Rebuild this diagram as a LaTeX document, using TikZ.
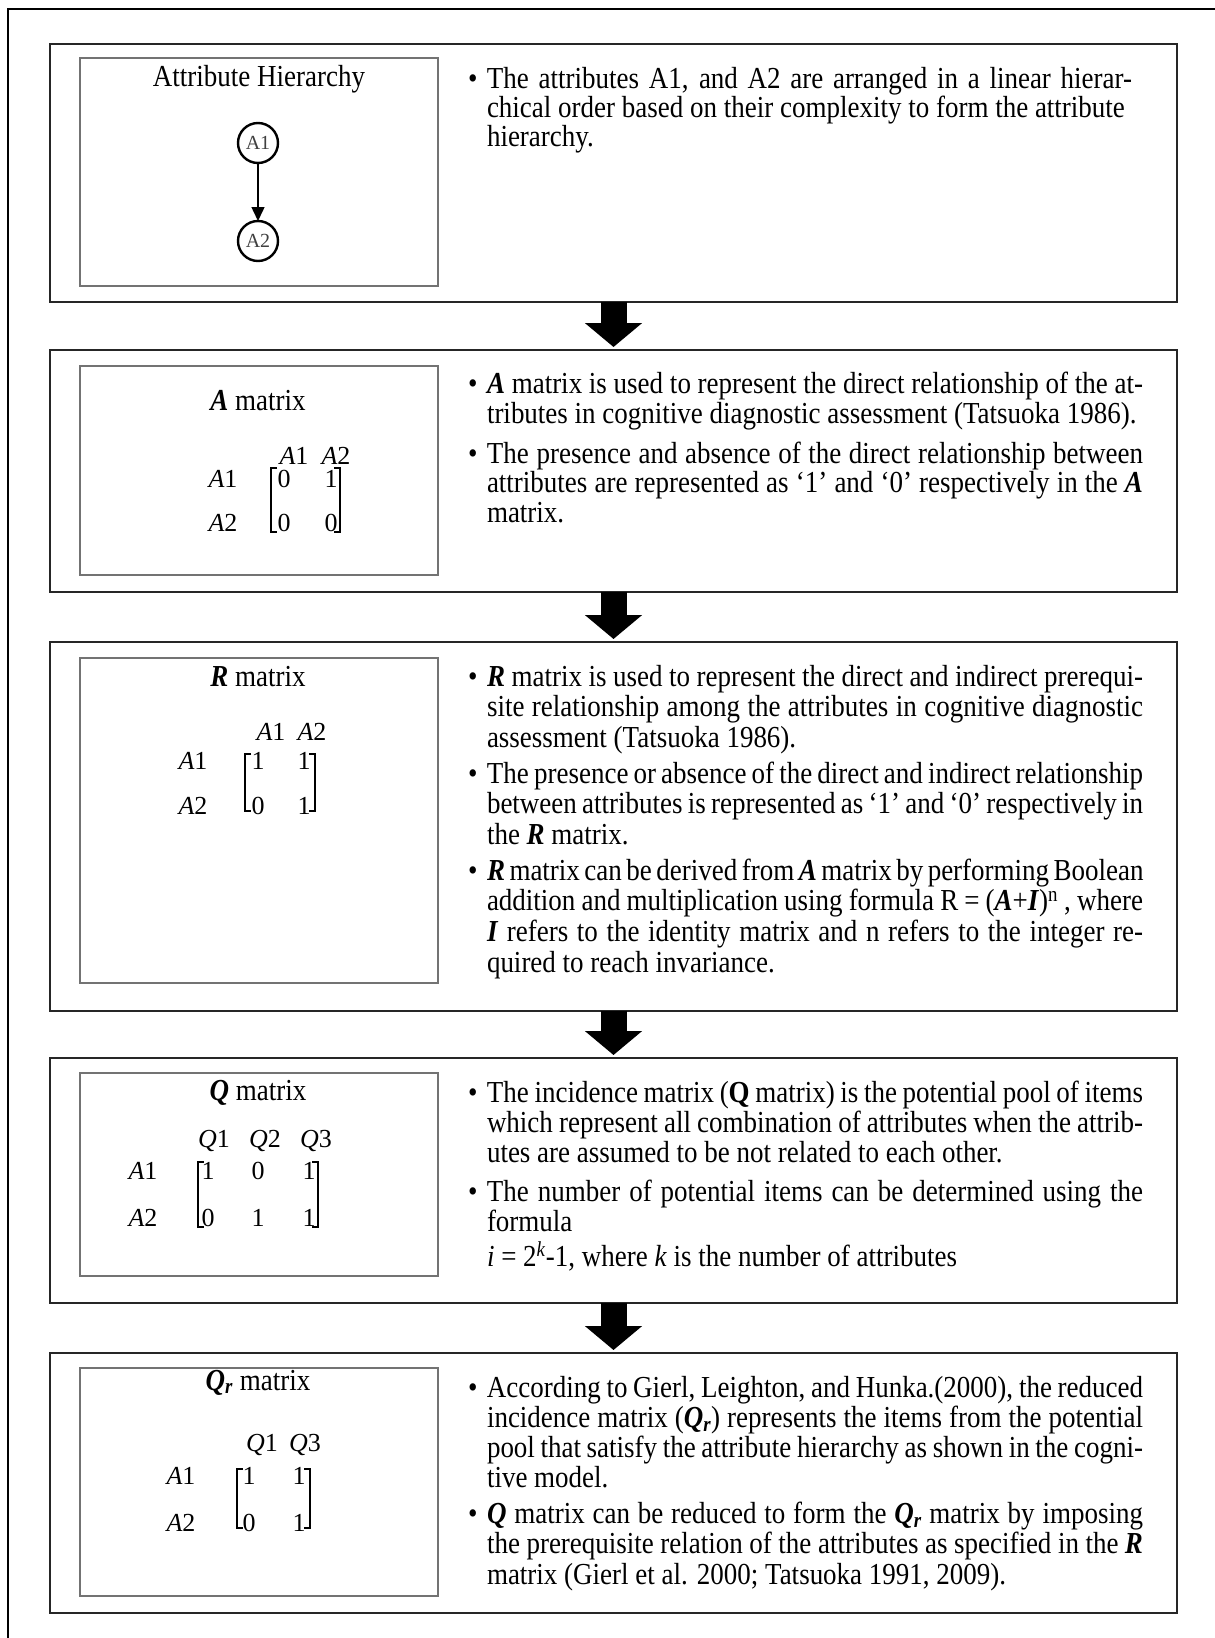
\documentclass[tikz,border=0pt]{standalone}
\usepackage{fontspec}
\setmainfont{Liberation Serif}[FakeStretch=0.885]
\newfontfamily\plainserif{Liberation Serif}
\usetikzlibrary{arrows.meta}

\newcommand\bi[1]{\textbf{\textit{#1}}}
\newcommand\jl[1]{\noindent\makebox[\hsize][s]{#1}\par}
\newcommand\lastl[1]{\noindent #1\par}
\newcommand\bul[2]{\makebox[19pt][l]{\textbullet}\parbox[t]{656pt}{\fontsize{30.5}{#1}\selectfont\parindent0pt\parskip0pt #2}}
\newcommand\mA[1]{\textit{A}#1}
\newcommand\mQ[1]{\textit{Q}#1}

\begin{document}
\begin{tikzpicture}[x=1pt,y=-1pt,
  every node/.style={inner sep=0pt, outer sep=0pt},
  secbox/.style={draw=black!85, line width=1.4pt, minimum width=1127pt, anchor=north west},
  innerbox/.style={draw=black!55, line width=2.2pt, minimum width=358pt, anchor=north west},
  btext/.style={anchor=base west, font=\fontsize{30.5}{30.4}\selectfont},
  ttl/.style={anchor=base, font=\fontsize{30.5}{30.4}\selectfont},
  mtx/.style={anchor=base, font=\plainserif\fontsize{26}{30}\selectfont},
  brk/.style={line width=1.6pt},
  bigarrow/.style={line width=26pt, -{Triangle[length=24pt,width=56pt]}, shorten >=3pt},
  attr/.style={circle, draw, line width=2.4pt, minimum size=40pt, text=black!75, font=\plainserif\fontsize{20}{20}\selectfont}
]
\useasboundingbox (0,0) rectangle (1215,1638);
\fill[white] (0,0) rectangle (1215,1638);
% outer frame (only top and left visible)
\draw[line width=2.5pt] (8,1640) -- (8,9) -- (1217,9);

% sections
\node[secbox, minimum height=258pt] (s1) at (50,44) {};
\node[secbox, minimum height=242pt] (s2) at (50,350) {};
\node[secbox, minimum height=369pt] (s3) at (50,642) {};
\node[secbox, minimum height=245pt] (s4) at (50,1058) {};
\node[secbox, minimum height=260pt] (s5) at (50,1353) {};

% inner boxes
\node[innerbox, minimum height=228pt] (i1) at (80,58) {};
\node[innerbox, minimum height=209pt] (i2) at (80,366) {};
\node[innerbox, minimum height=325pt] (i3) at (80,658) {};
\node[innerbox, minimum height=203pt] (i4) at (80,1073) {};
\node[innerbox, minimum height=228pt] (i5) at (80,1368) {};

% arrows between sections
\draw[bigarrow] (s1.south) -- (s2.north);
\draw[bigarrow] (s2.south) -- (s3.north);
\draw[bigarrow] (s3.south) -- (s4.north);
\draw[bigarrow] (s4.south) -- (s5.north);

% ---- section 1
\node[ttl] (t1) at (259,86) {Attribute Hierarchy};
\node[attr] (c1) at (258,143) {A1};
\node[attr] (c2) at (258,241) {A2};
\draw[line width=1.5pt, -{Triangle[length=14pt,width=13pt]}] (c1) -- (c2);
\node[btext] (b11) at (468,88) {\bul{29.3}{%
\noindent\makebox[645pt][s]{The attributes A1, and A2 are arranged in a linear hierar-}\par
\lastl{chical order based on their complexity to form the attribute}
\lastl{hierarchy.}}};

% ---- section 2
\node[ttl] (t2) at (258,410) {\bi{A} matrix};
\node[mtx] (m2h1) at (294,464) {\mA{1}};
\node[mtx] (m2h2) at (336,464) {\mA{2}};
\node[mtx] (m2r1) at (223,487) {\mA{1}};
\node[mtx] (m2r2) at (223,531) {\mA{2}};
\node[mtx] (m2a) at (284,487) {0};
\node[mtx] (m2b) at (331,487) {1};
\node[mtx] (m2c) at (284,531) {0};
\node[mtx] (m2d) at (331,531) {0};
\draw[brk] (277,468) -- (271,468) -- (271,532) -- (277,532);
\draw[brk] (334,468) -- (340,468) -- (340,532) -- (334,532);
\node[btext] (b21) at (468,393) {\bul{30.3}{%
\jl{\bi{A} matrix is used to represent the direct relationship of the at-}
\lastl{tributes in cognitive diagnostic assessment (Tatsuoka 1986).}}};
\node[btext] (b22) at (468,463) {\bul{29.8}{%
\jl{The presence and absence of the direct relationship between}
\jl{attributes are represented as ‘1’ and ‘0’ respectively in the \bi{A}}
\lastl{matrix.}}};

% ---- section 3
\node[ttl] (t3) at (258,686) {\bi{R} matrix};
\node[mtx] (m3h1) at (271,740) {\mA{1}};
\node[mtx] (m3h2) at (312,740) {\mA{2}};
\node[mtx] (m3r1) at (193,769) {\mA{1}};
\node[mtx] (m3r2) at (193,814) {\mA{2}};
\node[mtx] (m3a) at (258,769) {1};
\node[mtx] (m3b) at (304,769) {1};
\node[mtx] (m3c) at (258,814) {0};
\node[mtx] (m3d) at (304,814) {1};
\draw[brk] (251,754) -- (245,754) -- (245,811) -- (251,811);
\draw[brk] (309,754) -- (315,754) -- (315,811) -- (309,811);
\node[btext] (b31) at (468,686) {\bul{30.6}{%
\jl{\bi{R} matrix is used to represent the direct and indirect prerequi-}
\jl{site relationship among the attributes in cognitive diagnostic}
\lastl{assessment (Tatsuoka 1986).}}};
\node[btext] (b32) at (468,783) {\bul{30.6}{%
\jl{The presence or absence of the direct and indirect relationship}
\jl{between attributes is represented as ‘1’ and ‘0’ respectively in}
\lastl{the \bi{R} matrix.}}};
\node[btext] (b33) at (468,880) {\bul{30.7}{%
\jl{\bi{R} matrix can be derived from \bi{A} matrix by performing Boolean}
\jl{addition and multiplication using formula R = (\bi{A}+\bi{I})\textsuperscript{n} , where}
\jl{\bi{I} refers to the identity matrix and n refers to the integer re-}
\lastl{quired to reach invariance.}}};

% ---- section 4
\node[ttl] (t4) at (258,1100) {\bi{Q} matrix};
\node[mtx] (m4h1) at (214,1147) {\mQ{1}};
\node[mtx] (m4h2) at (265,1147) {\mQ{2}};
\node[mtx] (m4h3) at (316,1147) {\mQ{3}};
\node[mtx] (m4r1) at (143,1179) {\mA{1}};
\node[mtx] (m4r2) at (143,1226) {\mA{2}};
\node[mtx] (m4a) at (208,1179) {1};
\node[mtx] (m4b) at (258,1179) {0};
\node[mtx] (m4c) at (309,1179) {1};
\node[mtx] (m4d) at (208,1226) {0};
\node[mtx] (m4e) at (258,1226) {1};
\node[mtx] (m4f) at (309,1226) {1};
\draw[brk] (204,1162) -- (198,1162) -- (198,1227) -- (204,1227);
\draw[brk] (312,1162) -- (318,1162) -- (318,1227) -- (312,1227);
\node[btext] (b41) at (468,1102) {\bul{30.3}{%
\jl{The incidence matrix (\textbf{Q} matrix) is the potential pool of items}
\jl{which represent all combination of attributes when the attrib-}
\lastl{utes are assumed to be not related to each other.}}};
\node[btext] (b42) at (468,1201) {\bul{30.3}{%
\jl{The number of potential items can be determined using the}
\lastl{formula}}};
\node[btext] (b43) at (487,1266) {\textit{i} = 2\textsuperscript{\textit{k}}-1, where \textit{k} is the number of attributes};

% ---- section 5
\node[ttl] (t5) at (258,1390) {\bi{Q\textsubscript{r}} matrix};
\node[mtx] (m5h1) at (262,1451) {\mQ{1}};
\node[mtx] (m5h2) at (305,1451) {\mQ{3}};
\node[mtx] (m5r1) at (181,1484) {\mA{1}};
\node[mtx] (m5r2) at (181,1531) {\mA{2}};
\node[mtx] (m5a) at (249,1484) {1};
\node[mtx] (m5b) at (299,1484) {1};
\node[mtx] (m5c) at (249,1531) {0};
\node[mtx] (m5d) at (299,1531) {1};
\draw[brk] (243,1469) -- (237,1469) -- (237,1528) -- (243,1528);
\draw[brk] (304,1469) -- (310,1469) -- (310,1528) -- (304,1528);
\node[btext] (b51) at (468,1397) {\bul{30.3}{%
\jl{According to Gierl, Leighton, and Hunka.(2000), the reduced}
\jl{incidence matrix (\bi{Q\textsubscript{r}}) represents the items from the potential}
\jl{pool that satisfy the attribute hierarchy as shown in the cogni-}
\lastl{tive model.}}};
\node[btext] (b52) at (468,1523.5) {\bul{30.3}{%
\jl{\bi{Q} matrix can be reduced to form the \bi{Q\textsubscript{r}} matrix by imposing}
\jl{the prerequisite relation of the attributes as specified in the \bi{R}}
\lastl{matrix (Gierl et al. 2000; Tatsuoka 1991, 2009).}}};
\end{tikzpicture}
\end{document}
